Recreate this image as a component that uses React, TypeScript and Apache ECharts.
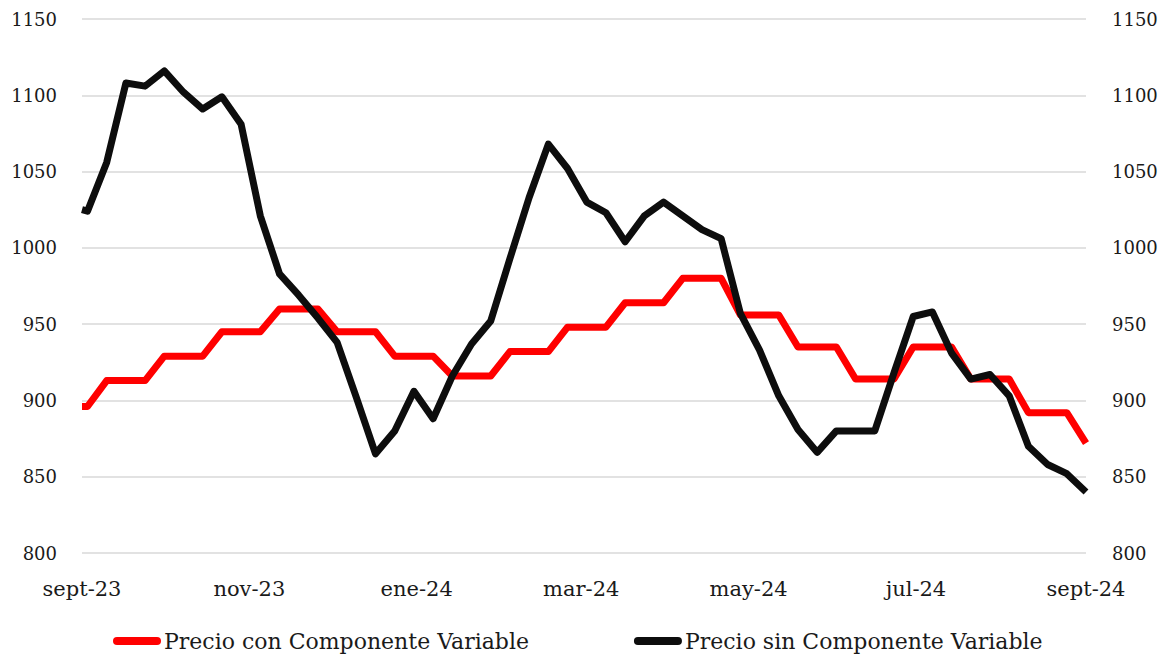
import React, { useEffect, useRef } from "react";
import * as echarts from "echarts";

// Weekly observation dates
const dates = [
  "2023-09-01", "2023-09-03", "2023-09-10", "2023-09-17", "2023-09-24",
  "2023-10-01", "2023-10-08", "2023-10-15", "2023-10-22", "2023-10-29",
  "2023-11-05", "2023-11-12", "2023-11-19", "2023-11-26",
  "2023-12-03", "2023-12-10", "2023-12-17", "2023-12-24", "2023-12-31",
  "2024-01-07", "2024-01-14", "2024-01-21", "2024-01-28",
  "2024-02-04", "2024-02-11", "2024-02-18", "2024-02-25",
  "2024-03-03", "2024-03-10", "2024-03-17", "2024-03-24", "2024-03-31",
  "2024-04-07", "2024-04-14", "2024-04-21", "2024-04-28",
  "2024-05-05", "2024-05-12", "2024-05-19", "2024-05-26",
  "2024-06-02", "2024-06-09", "2024-06-16", "2024-06-23", "2024-06-30",
  "2024-07-07", "2024-07-14", "2024-07-21", "2024-07-28",
  "2024-08-04", "2024-08-11", "2024-08-18", "2024-08-25",
  "2024-09-01",
];

// Precio con Componente Variable
const conComponente = [
  896, 896, 913, 913, 913, 929, 929, 929, 945, 945,
  945, 960, 960, 960, 945, 945, 945, 929, 929, 929,
  916, 916, 916, 932, 932, 932, 948, 948, 948, 964,
  964, 964, 980, 980, 980, 956, 956, 956, 935, 935,
  935, 914, 914, 914, 935, 935, 935, 914, 914, 914,
  892, 892, 892, 872,
];

// Precio sin Componente Variable
const sinComponente = [
  1025, 1024, 1056, 1108, 1106, 1116, 1102, 1091, 1099, 1081,
  1021, 983, 969, 954, 938, 902, 865, 880, 906, 888,
  916, 937, 952, 993, 1033, 1068, 1052, 1030, 1023, 1004,
  1021, 1030, 1021, 1012, 1006, 957, 933, 903, 881, 866,
  880, 880, 880, 918, 955, 958, 931, 914, 917, 903,
  870, 858, 852, 840,
];

const seriesNames = ["Precio con Componente Variable", "Precio sin Componente Variable"];
const seriesColors = ["#ff0000", "#0d0d0d"];

const tickDates = ["2023-09-01", "2023-11-01", "2024-01-01", "2024-03-01", "2024-05-01", "2024-07-01", "2024-09-01"];
const tickLabels = ["sept-23", "nov-23", "ene-24", "mar-24", "may-24", "jul-24", "sept-24"];

const yMin = 800;
const yMax = 1150;
const yStep = 50;

const FONT = "DejaVu Serif";
const TEXT_COLOR = "#1a1a1a";

function toTime(s: string): number {
  const [y, m, d] = s.split("-").map(Number);
  return Date.UTC(y, m - 1, d);
}

export default function App() {
  const ref = useRef<HTMLDivElement>(null);

  useEffect(() => {
    if (!ref.current) return;
    const chart = echarts.init(ref.current, undefined, { renderer: "svg" });
    const tickTimes = tickDates.map(toTime);
    const yAxisBase = {
      type: "value" as const,
      min: yMin,
      max: yMax,
      interval: yStep,
      axisLine: { show: false },
      axisTick: { show: false },
    };
    chart.setOption({
      animation: false,
      backgroundColor: "#ffffff",
      grid: { left: 82, right: 81, top: 19, bottom: 102, containLabel: false },
      legend: {
        data: seriesNames,
        left: 108,
        top: 625,
        itemWidth: 48,
        itemHeight: 8,
        itemGap: 105,
        icon: "path://M4,0 L44,0 A4,4 0 0 1 44,8 L4,8 A4,4 0 0 1 4,0 Z",
        textStyle: { fontFamily: FONT, fontSize: 22, color: TEXT_COLOR, padding: [0, 0, 0, -2] },
      },
      xAxis: {
        type: "value",
        min: tickTimes[0],
        max: tickTimes[tickTimes.length - 1],
        axisLine: { show: false },
        axisTick: { show: false },
        splitLine: { show: false },
        axisLabel: {
          customValues: tickTimes,
          showMinLabel: true,
          showMaxLabel: true,
          hideOverlap: false,
          margin: 25,
          fontFamily: FONT,
          fontSize: 21,
          color: TEXT_COLOR,
          formatter: (v: number) => {
            const i = tickTimes.indexOf(v);
            return i >= 0 ? tickLabels[i] : "";
          },
        },
      },
      yAxis: [
        {
          ...yAxisBase,
          position: "left",
          splitLine: { show: true, lineStyle: { color: "#d9d9d9", width: 1.5 } },
          axisLabel: { fontFamily: FONT, fontSize: 18, color: TEXT_COLOR, margin: 25, formatter: (v: number) => String(v) },
        },
        {
          ...yAxisBase,
          position: "right",
          splitLine: { show: false },
          axisLabel: { fontFamily: FONT, fontSize: 18, color: TEXT_COLOR, margin: 26, formatter: (v: number) => String(v) },
        },
      ],
      series: [
        {
          name: seriesNames[0],
          type: "line",
          yAxisIndex: 0,
          symbol: "none",
          color: seriesColors[0],
          lineStyle: { width: 7, color: seriesColors[0], join: "round" },
          data: dates.map((d, i) => [toTime(d), conComponente[i]]),
        },
        {
          name: seriesNames[1],
          type: "line",
          yAxisIndex: 0,
          symbol: "none",
          color: seriesColors[1],
          lineStyle: { width: 7, color: seriesColors[1], join: "round" },
          data: dates.map((d, i) => [toTime(d), sinComponente[i]]),
        },
      ],
    });
    return () => chart.dispose();
  }, []);

  return (
    <div
      ref={ref}
      style={{ position: "fixed", left: 0, top: 0, width: 1167, height: 655, background: "#fff" }}
    />
  );
}
